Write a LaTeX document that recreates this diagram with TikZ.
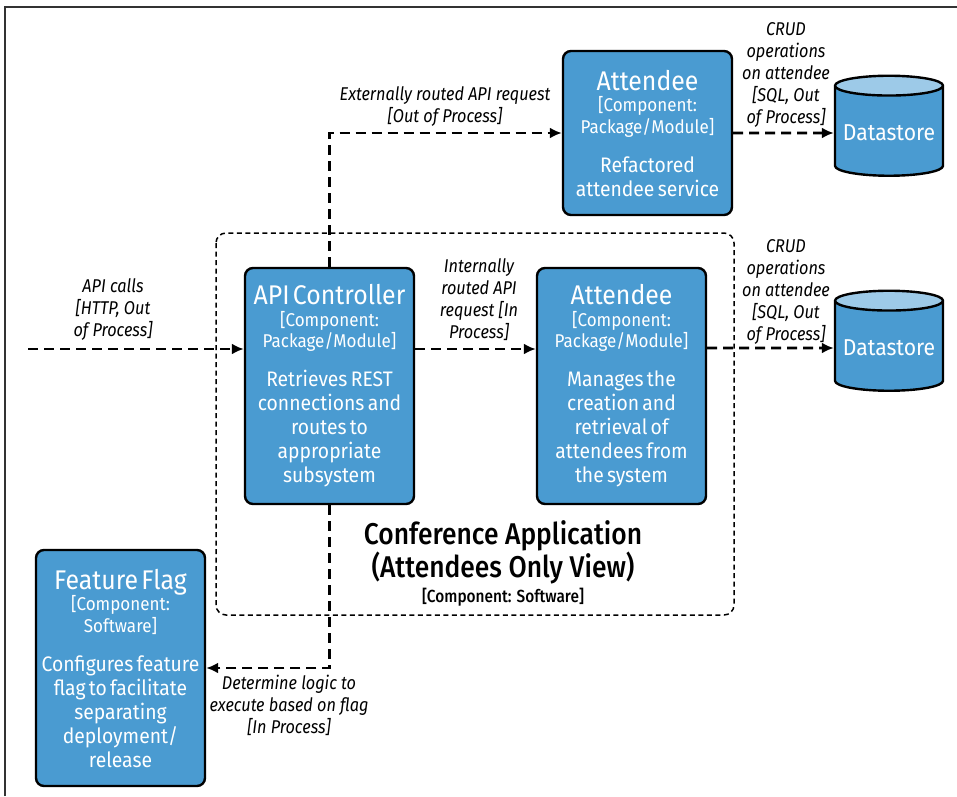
\documentclass[tikz,border=0pt]{standalone}
\usepackage{fontspec}
\setmainfont{Fira Sans}[FakeStretch=0.92]
\newfontfamily\labelfont{Fira Sans}[FakeStretch=0.88]
\newfontfamily\titlefont{Fira Sans Medium}[FakeStretch=0.88]
\usetikzlibrary{arrows.meta,shapes.geometric}

\definecolor{compblue}{HTML}{4A9BD1}
\definecolor{storetop}{HTML}{9DCAE8}

% title, type and description of a component box
\newcommand{\comp}[3]{%
  {\fontsize{27}{29}\selectfont #1\par}%
  {\fontsize{18.5}{21.5}\selectfont #2\par}%
  \vspace{15pt}%
  {\fontsize{21}{24}\selectfont #3\par}}

\begin{document}
\begin{tikzpicture}[x=1pt,y=-1pt,
  component/.style={draw=black,line width=2.4pt,rounded corners=8pt,fill=compblue,
    text=white,align=center,text width=162pt,inner xsep=3.5pt,inner ysep=0pt},
  store/.style={cylinder,shape border rotate=90,aspect=0.2,draw=black,line width=2.4pt,
    cylinder uses custom fill,cylinder body fill=compblue,cylinder end fill=storetop,
    minimum width=108pt,minimum height=100pt,text=white,font=\fontsize{23}{26}\selectfont},
  flow/.style={line width=2.6pt,dash pattern=on 10pt off 6pt,-{Latex[length=12pt,width=11pt]}},
  boundary/.style={line width=1.5pt,dash pattern=on 5pt off 3.5pt,rounded corners=10pt},
  lbl/.style={font=\labelfont\itshape\fontsize{18.5}{22}\selectfont,align=center,inner sep=0pt}]
\useasboundingbox (0,0) rectangle (957,796);
\draw[line width=1.2pt,black!80] (5,796) -- (5,7) -- (957,7);

% system boundary
\draw[boundary] (216,233) rectangle (734,615);
\node[font=\titlefont\fontsize{30}{32}\selectfont,align=center] (apptitle) at (503,552)
  {Conference Application\\(Attendees Only View)};
\node[font=\titlefont\fontsize{17.5}{20}\selectfont] (apptype) at (503,597) {[Component: Software]};

% components
\node[component,minimum height=164pt] (atttop) at (647.5,133)
  {\comp{Attendee}{[Component:\\Package/Module]}{Refactored\\attendee service}};
\node[component,minimum height=236pt] (api) at (329.5,386)
  {\comp{API Controller}{[Component:\\Package/Module]}{Retrieves REST\\connections and\\routes to\\appropriate\\subsystem}};
\node[component,minimum height=236pt] (att) at (621.5,386)
  {\comp{Attendee}{[Component:\\Package/Module]}{Manages the\\creation and\\retrieval of\\attendees from\\the system}};
\node[component,minimum height=236pt] (flag) at (120.5,668)
  {\comp{Feature Flag}{[Component:\\Software]}{Configures feature\\flag to facilitate\\separating\\deployment/\\release}};

\node[store] (ds1) at (889,133) {Datastore};
\node[store] (ds2) at (889,348) {Datastore};

% connectors
\coordinate (callsrc) at (28,349);
\draw[flow] (callsrc) -- (callsrc -| api.west);
\draw[flow] (callsrc -| api.east) -- (callsrc -| att.west);
\draw[flow] (att.east |- ds2) -- (ds2);
\draw[flow] (api.north) |- (atttop.west);
\draw[flow] (atttop) -- (ds1);
\draw[flow] (api.south) |- (flag.east);

\node[lbl] (lcalls) at (113,310) {API calls\\{[}HTTP, Out\\of Process]};
\node[lbl] (lint) at (479,300) {Internally\\routed API\\request [In\\Process]};
\node[lbl] (lext) at (445,107) {Externally routed API request\\{[}Out of Process]};
\node[lbl] (lcrud1) at (786,75) {CRUD\\operations\\on attendee\\{[}SQL, Out\\of Process]};
\node[lbl] (lcrud2) at (786,292) {CRUD\\operations\\on attendee\\{[}SQL, Out\\of Process]};
\node[lbl] (lflag) at (289,705) {Determine logic to\\execute based on flag\\{[}In Process]};
\end{tikzpicture}
\end{document}
